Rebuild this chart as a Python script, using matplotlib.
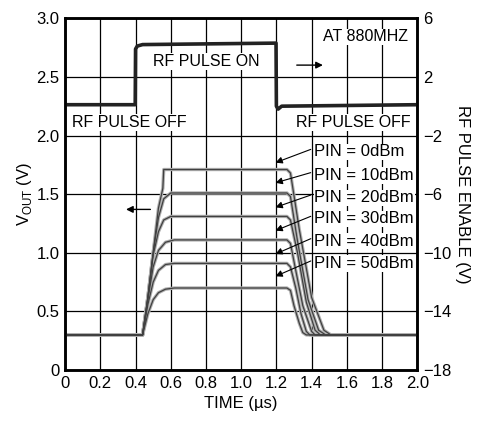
import matplotlib
matplotlib.use('Agg')
import matplotlib.pyplot as plt

plt.rcParams['font.family'] = ['Liberation Sans Narrow', 'Liberation Sans', 'DejaVu Sans']

# RF pulse enable trace (right axis, V)
enable_t = [0.0, 0.398, 0.400, 0.41, 0.44, 1.198, 1.200, 1.21, 1.23, 2.0]
enable_v = [0.1, 0.1, 3.9, 4.1, 4.2, 4.3, 0.0, -0.2, 0.0, 0.1]

# VOUT traces (left axis, V) for each input power
pin_labels = ['PIN = 0dBm', 'PIN = 10dBm', 'PIN = 20dBm', 'PIN = 30dBm', 'PIN = 40dBm', 'PIN = 50dBm']
vout_t = [
    [0.0, 0.44, 0.47, 0.50, 0.53, 0.555, 0.56, 1.26, 1.28, 1.33, 1.40, 1.47, 1.51, 2.0],
    [0.0, 0.44, 0.47, 0.50, 0.53, 0.56, 0.60, 1.26, 1.28, 1.32, 1.38, 1.44, 1.48, 2.0],
    [0.0, 0.44, 0.47, 0.50, 0.53, 0.56, 0.60, 1.26, 1.28, 1.32, 1.37, 1.42, 1.45, 2.0],
    [0.0, 0.44, 0.47, 0.50, 0.53, 0.57, 0.62, 1.26, 1.28, 1.31, 1.35, 1.40, 1.42, 2.0],
    [0.0, 0.44, 0.47, 0.50, 0.53, 0.57, 0.62, 1.26, 1.28, 1.31, 1.34, 1.37, 1.39, 2.0],
    [0.0, 0.44, 0.47, 0.50, 0.53, 0.57, 0.62, 1.26, 1.28, 1.30, 1.33, 1.35, 1.37, 2.0],
]
vout_v = [
    [0.30, 0.30, 0.62, 1.00, 1.38, 1.55, 1.71, 1.71, 1.68, 1.20, 0.62, 0.34, 0.30, 0.30],
    [0.30, 0.30, 0.62, 1.00, 1.30, 1.46, 1.51, 1.51, 1.48, 1.10, 0.60, 0.34, 0.30, 0.30],
    [0.30, 0.30, 0.62, 0.98, 1.18, 1.28, 1.31, 1.31, 1.28, 1.00, 0.58, 0.34, 0.30, 0.30],
    [0.30, 0.30, 0.60, 0.88, 1.02, 1.09, 1.11, 1.11, 1.08, 0.85, 0.55, 0.33, 0.30, 0.30],
    [0.30, 0.30, 0.56, 0.75, 0.85, 0.90, 0.91, 0.91, 0.88, 0.70, 0.48, 0.33, 0.30, 0.30],
    [0.30, 0.30, 0.48, 0.60, 0.66, 0.69, 0.70, 0.70, 0.68, 0.55, 0.40, 0.32, 0.30, 0.30],
]
label_y = [1.86, 1.66, 1.47, 1.29, 1.10, 0.91]
arrow_tip_y = [1.76, 1.59, 1.38, 1.18, 0.98, 0.79]

fig = plt.figure(figsize=(4.79, 4.23), dpi=100)
ax = fig.add_axes([0.136, 0.125, 0.735, 0.832])
ax2 = ax.twinx()

for t, v in zip(vout_t, vout_v):
    ax.plot(t, v, color='#b0b0b0', lw=2.4, zorder=2)
    ax.plot(t, v, color='#404040', lw=0.9, zorder=3)

ax2.plot(enable_t, enable_v, color='#222222', lw=2.6)

ax.set_xlim(0, 2.0)
ax.set_ylim(0, 3.0)
ax2.set_ylim(-18, 6)
ax.set_xticks([0, 0.2, 0.4, 0.6, 0.8, 1.0, 1.2, 1.4, 1.6, 1.8, 2.0])
ax.set_xticklabels(['0', '0.2', '0.4', '0.6', '0.8', '1.0', '1.2', '1.4', '1.6', '1.8', '2.0'])
ax.set_yticks([0, 0.5, 1.0, 1.5, 2.0, 2.5, 3.0])
ax.set_yticklabels(['0', '0.5', '1.0', '1.5', '2.0', '2.5', '3.0'])
ax2.set_yticks([-18, -14, -10, -6, -2, 2, 6])
ax2.set_yticklabels(['\u221218', '\u221214', '\u221210', '\u22126', '\u22122', '2', '6'])
ax.grid(True, color='black', lw=0.9)
ax.set_axisbelow(True)
ax.tick_params(length=0, labelsize=12, pad=4)
ax2.tick_params(length=0, labelsize=12, pad=4)
for a in (ax, ax2):
    for s in a.spines.values():
        s.set_linewidth(1.8)

ax.set_xlabel('TIME (\u00b5s)', fontsize=12)
ax.set_ylabel(r'V$_{\mathregular{OUT}}$ (V)', fontsize=12, labelpad=2)
ax2.set_ylabel('RF PULSE ENABLE (V)', fontsize=12, rotation=-90, labelpad=14)

bbox = dict(facecolor='white', edgecolor='none', pad=0.5)
ax.text(1.95, 2.84, 'AT 880MHZ', ha='right', va='center', fontsize=11.5, bbox=bbox, zorder=5)
ax.text(0.80, 2.63, 'RF PULSE ON', ha='center', va='center', fontsize=11.5, bbox=bbox, zorder=5)
ax.text(0.04, 2.11, 'RF PULSE OFF', ha='left', va='center', fontsize=11.5, bbox=bbox, zorder=5)
ax.text(1.96, 2.11, 'RF PULSE OFF', ha='right', va='center', fontsize=11.5, bbox=bbox, zorder=5)
ax.annotate('', xy=(1.48, 2.6), xytext=(1.3, 2.6),
            arrowprops=dict(arrowstyle='-|>', color='black', lw=1, mutation_scale=10), zorder=5)
ax.annotate('', xy=(0.33, 1.37), xytext=(0.5, 1.37),
            arrowprops=dict(arrowstyle='-|>', color='black', lw=1, mutation_scale=10), zorder=5)

for lab, ly, ty in zip(pin_labels, label_y, arrow_tip_y):
    ax.text(1.415, ly, lab, ha='left', va='center', fontsize=12, bbox=bbox, zorder=6)
    ax.annotate('', xy=(1.18, ty), xytext=(1.41, ly + 0.03),
                arrowprops=dict(arrowstyle='-|>', color='black', lw=0.8, mutation_scale=10), zorder=6)

fig.savefig('out.png', dpi=100)
